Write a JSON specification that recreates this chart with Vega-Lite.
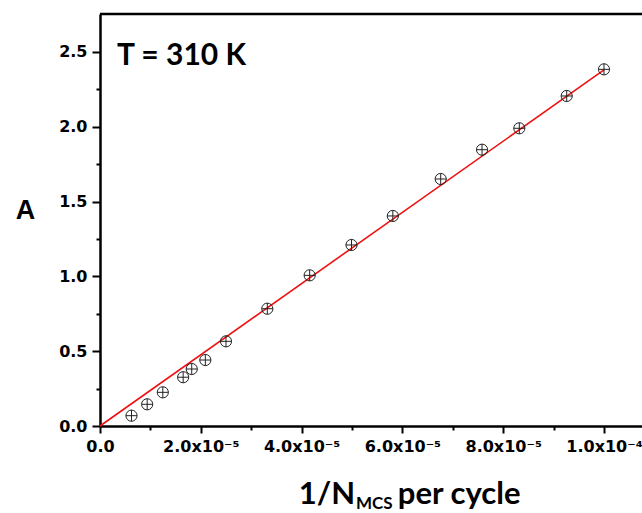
{
  "$schema": "https://vega.github.io/schema/vega-lite/v6.json",
  "width": 542,
  "height": 412,
  "autosize": "none",
  "padding": {"left": 100, "top": 14, "right": 0, "bottom": 87},
  "background": "white",
  "config": {
    "view": {"stroke": null},
    "axis": {
      "grid": false,
      "domainColor": "black",
      "domainWidth": 2.5,
      "tickColor": "black",
      "tickWidth": 2,
      "labelColor": "black",
      "labelFont": "DejaVu Sans",
      "labelFontWeight": "bold",
      "labelFontSize": 16,
      "labelOverlap": false,
      "labelFlush": false,
      "labelBound": false
    }
  },
  "datasets": {
    "fit": [
      {"inv_n": 0, "a": 0},
      {"inv_n": 0.0001, "a": 2.38}
    ],
    "runs": [
      {"inv_n": 0.00000625, "a": 0.069},
      {"inv_n": 0.00000936, "a": 0.145},
      {"inv_n": 0.00001246, "a": 0.225},
      {"inv_n": 0.0000165, "a": 0.326},
      {"inv_n": 0.0000182, "a": 0.381},
      {"inv_n": 0.0000209, "a": 0.441},
      {"inv_n": 0.000025, "a": 0.566},
      {"inv_n": 0.0000332, "a": 0.784},
      {"inv_n": 0.0000416, "a": 1.007},
      {"inv_n": 0.0000499, "a": 1.21},
      {"inv_n": 0.0000581, "a": 1.404},
      {"inv_n": 0.0000676, "a": 1.651},
      {"inv_n": 0.0000758, "a": 1.847},
      {"inv_n": 0.0000832, "a": 1.99},
      {"inv_n": 0.0000926, "a": 2.206},
      {"inv_n": 0.0001, "a": 2.384}
    ],
    "one": [{}]
  },
  "layer": [
    {
      "data": {"name": "fit"},
      "mark": {"type": "line", "color": "#ee1111", "strokeWidth": 1.6},
      "encoding": {
        "x": {
          "field": "inv_n",
          "type": "quantitative",
          "scale": {"domain": [0, 0.00010754], "nice": false},
          "axis": {
            "title": null,
            "values": [0, 0.00001, 0.00002, 0.00003, 0.00004, 0.00005, 0.00006, 0.00007, 0.00008, 0.00009, 0.0001],
            "tickSize": {"condition": {"test": "round(datum.value*1e5)%2==1", "value": 4}, "value": 7},
            "labelPadding": 5,
            "labelExpr": "round(datum.value*1e5)%2==1 ? '' : datum.value==0 ? '0.0' : datum.value<0.000095 ? format(datum.value*1e5,'.1f')+'x10⁻⁵' : '1.0x10⁻⁴'"
          }
        },
        "y": {
          "field": "a",
          "type": "quantitative",
          "scale": {"domain": [0, 2.754], "nice": false},
          "axis": {
            "title": "A",
            "titleFont": "Liberation Sans",
            "titleFontWeight": "bold",
            "titleFontSize": 27,
            "titleColor": "black",
            "titleAngle": 0,
            "titleAlign": "center",
            "titleBaseline": "middle",
            "titleX": -75,
            "titleY": 196,
            "values": [0, 0.25, 0.5, 0.75, 1, 1.25, 1.5, 1.75, 2, 2.25, 2.5],
            "tickSize": {"condition": {"test": "round(datum.value*4)%2==1", "value": 4}, "value": 8},
            "labelPadding": 5,
            "labelExpr": "round(datum.value*4)%2==1 ? '' : format(datum.value,'.1f')"
          }
        }
      }
    },
    {
      "data": {"name": "runs"},
      "mark": {
        "type": "point",
        "shape": "M-1,0A1,1,0,1,1,1,0A1,1,0,1,1,-1,0ZM-1,0L1,0M0,-1L0,1",
        "size": 125,
        "filled": false,
        "stroke": "#222222",
        "strokeWidth": 1,
        "opacity": 1
      },
      "encoding": {
        "x": {"field": "inv_n", "type": "quantitative"},
        "y": {"field": "a", "type": "quantitative"}
      }
    },
    {
      "data": {"name": "one"},
      "mark": {"type": "rule", "color": "black", "strokeWidth": 2.5},
      "encoding": {"y": {"datum": 2.754}}
    },
    {
      "data": {"name": "one"},
      "mark": {"type": "text", "text": "T = 310 K", "font": "Lato", "fontWeight": "bold", "fontSize": 30, "align": "left", "baseline": "alphabetic", "color": "black"},
      "encoding": {"x": {"datum": 0.00000337}, "y": {"datum": 2.413}}
    },
    {
      "data": {"name": "one"},
      "mark": {"type": "text", "text": "1/N", "font": "Lato", "fontWeight": "bold", "fontSize": 31, "align": "right", "baseline": "alphabetic", "color": "black"},
      "encoding": {"x": {"datum": 0.0000506}, "y": {"datum": -0.522}}
    },
    {
      "data": {"name": "one"},
      "mark": {"type": "text", "text": "MCS", "font": "Lato", "fontWeight": "bold", "fontSize": 17, "align": "left", "baseline": "alphabetic", "dx": 1, "color": "black"},
      "encoding": {"x": {"datum": 0.0000506}, "y": {"datum": -0.558}}
    },
    {
      "data": {"name": "one"},
      "mark": {"type": "text", "text": "per cycle", "font": "Lato", "fontWeight": "bold", "fontSize": 31, "align": "left", "baseline": "alphabetic", "color": "black"},
      "encoding": {"x": {"datum": 0.0000591}, "y": {"datum": -0.522}}
    }
  ]
}
